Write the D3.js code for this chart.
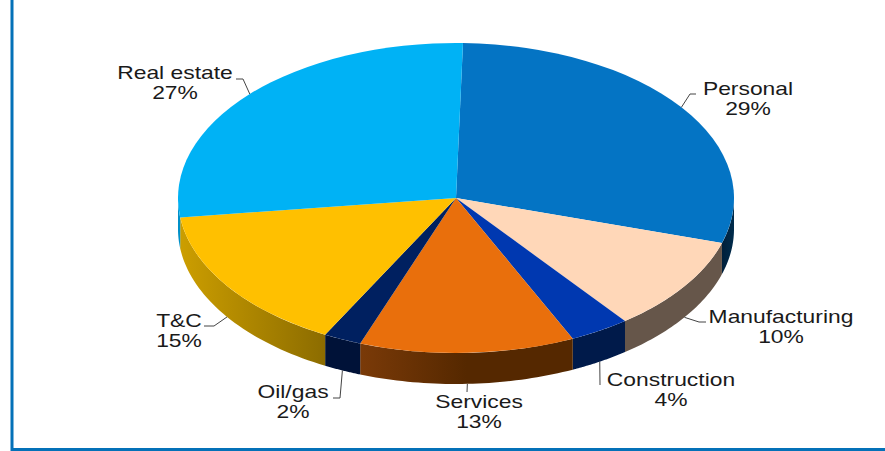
<!DOCTYPE html>
<html>
<head>
<meta charset="utf-8">
<script src="https://cdn.jsdelivr.net/npm/d3@7"></script>
<style>
  html, body { margin: 0; padding: 0; background: #fff; }
  svg { display: block; }
  text { font-family: "Liberation Sans", Arial, sans-serif; font-size: 18px; fill: #1a1a1a; }
</style>
</head>
<body>
<div id="contenedor"></div>
<script>
// datos
var sectores = ["Personal", "Manufacturing", "Construction", "Services", "Oil/gas", "T&C", "Real estate"]
var valores = [29.3, 9.9, 3.5, 12.5, 2.2, 15.2, 27.4]
var etiquetas = ["29%", "10%", "4%", "13%", "2%", "15%", "27%"]

var coloresTop = ["#0474C4", "#FFD7B8", "#0038B0", "#E96F0C", "#002060", "#FFC000", "#00B2F5"]
var ladoIni = ["#001F3A", "#66564A", "#001A4A", "#7A3A08", "#001238", "#CC9E00", "#0090C8"]
var ladoFin = ["#002C4C", "#66564A", "#001A4A", "#552800", "#001238", "#8C6C00", "#0090C8"]
var finDegradado = ["100%", "100%", "100%", "50%", "100%", "100%", "100%"]

// posicion del texto (centro), codo y cola de la linea guia
var posTexto = [[748, 95], [781, 323], [671, 386], [479, 408], [293, 398], [179, 327], [175, 79]]
var codos = [[690, 94], [699, 322], [600, 385], [467, 392], [340, 398], [214, 326], [243, 79]]
var colas = [6, 7, 0, 0, -7, -10, -7]

var ancho = 885, alto = 451
var cx = 456, cy = 198, rx = 278, ry = 155, grosor = 31
var inicio = 1.44 * Math.PI / 180

var svg = d3.select("#contenedor").append("svg")
  .attr("width", ancho)
  .attr("height", alto)

// marco
svg.append("path")
  .attr("d", d3.line()([[12, 0], [12, 449.5], [885, 449.5]]))
  .attr("fill", "none")
  .attr("stroke", "#0471B8")
  .attr("stroke-width", 3)

var pie = d3.pie().sort(null).startAngle(inicio).endAngle(inicio + 2 * Math.PI)
var arcos = pie(valores)

function punto(a, dy) {
  return [cx + rx * Math.sin(a), cy - ry * Math.cos(a) + (dy || 0)]
}

// degradados de los lados
var defs = svg.append("defs")
arcos.forEach(function(d, i) {
  var g = defs.append("linearGradient").attr("id", "lado" + i)
  g.append("stop").attr("offset", "0%").attr("stop-color", ladoIni[i])
  g.append("stop").attr("offset", finDegradado[i]).attr("stop-color", ladoFin[i])
})

// lados: solo la parte de delante (90 a 270 grados)
var linea = d3.line()
var lados = svg.append("g")
arcos.forEach(function(d, i) {
  var a0 = Math.max(d.startAngle, Math.PI / 2)
  var a1 = Math.min(d.endAngle, 3 * Math.PI / 2)
  if (a1 <= a0) return
  var angulos = d3.range(0, 41).map(function(k) { return a0 + (a1 - a0) * k / 40 })
  var arriba = angulos.map(function(a) { return punto(a) })
  var abajo = angulos.slice().reverse().map(function(a) { return punto(a, grosor) })
  lados.append("path")
    .attr("d", linea(arriba.concat(abajo)) + "Z")
    .attr("fill", "url(#lado" + i + ")")
})

// cara de arriba
var arco = d3.arc().innerRadius(0).outerRadius(rx)
svg.append("g")
  .attr("transform", "translate(" + cx + "," + cy + ") scale(1," + (ry / rx) + ")")
  .selectAll("path")
  .data(arcos)
  .enter()
  .append("path")
  .attr("d", arco)
  .attr("fill", function(d, i) { return coloresTop[i] })

// lineas guia, salen del punto medio de cada sector
arcos.forEach(function(d, i) {
  var medio = (d.startAngle + d.endAngle) / 2
  var delante = Math.cos(medio) < 0
  var ini = punto(medio, delante ? grosor : 0)
  var codo = codos[i]
  svg.append("path")
    .attr("d", linea([ini, codo, [codo[0] + colas[i], codo[1]]]))
    .attr("fill", "none")
    .attr("stroke", "#444")
    .attr("stroke-width", 1)
})

// textos, estirados a lo ancho como en el original
var escalaX = 1.27
sectores.forEach(function(s, i) {
  var t = svg.append("text")
    .attr("text-anchor", "middle")
    .attr("transform", "translate(" + posTexto[i][0] + "," + posTexto[i][1] + ") scale(" + escalaX + ",1)")
  t.append("tspan").attr("x", 0).attr("y", 0).text(s)
  t.append("tspan").attr("x", 0).attr("y", 20).text(etiquetas[i])
})
</script>
</body>
</html>
